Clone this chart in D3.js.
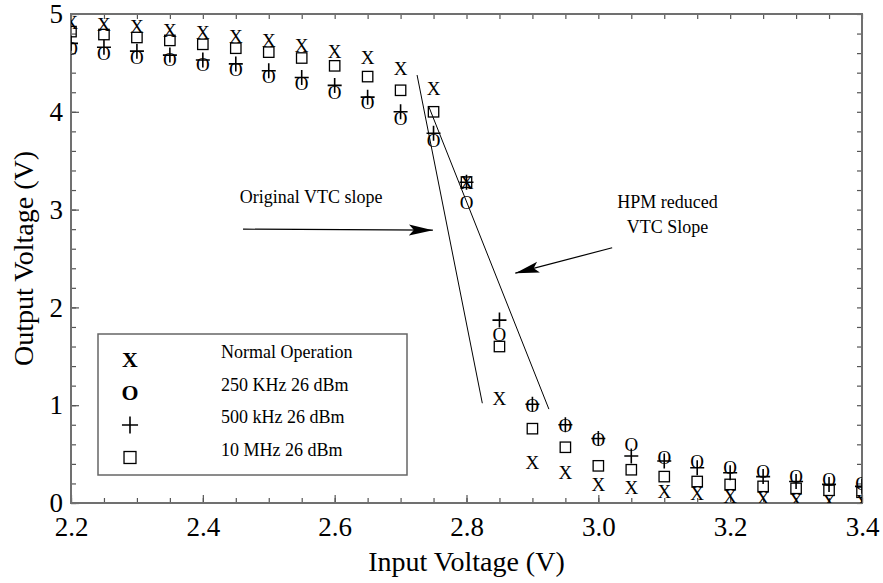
<!DOCTYPE html>
<html>
<head>
<meta charset="utf-8">
<script src="https://cdn.jsdelivr.net/npm/d3@7"></script>
<style>
  body { margin: 0; background: #fff; }
  svg text { font-family: "Liberation Serif", "Times New Roman", Times, serif; fill: #000; }
</style>
</head>
<body>
<div id="chart-area"></div>
<script>
// Data
const inputV = [2.2, 2.25, 2.3, 2.35, 2.4, 2.45, 2.5, 2.55, 2.6, 2.65, 2.7, 2.75, 2.8,
  2.85, 2.9, 2.95, 3.0, 3.05, 3.1, 3.15, 3.2, 3.25, 3.3, 3.35, 3.4];
const normalOp = [4.91, 4.89, 4.87, 4.83, 4.81, 4.77, 4.73, 4.68, 4.62, 4.55, 4.44, 4.24, 3.28,
  1.07, 0.41, 0.31, 0.19, 0.16, 0.12, 0.10, 0.07, 0.05, 0.03, 0.02, 0.02];
const khz250 = [4.65, 4.60, 4.56, 4.53, 4.48, 4.43, 4.36, 4.29, 4.20, 4.09, 3.93, 3.71, 3.07,
  1.72, 1.00, 0.79, 0.65, 0.60, 0.47, 0.42, 0.36, 0.32, 0.27, 0.24, 0.20];
const khz500 = [4.70, 4.66, 4.62, 4.58, 4.53, 4.49, 4.42, 4.35, 4.27, 4.15, 4.00, 3.78, 3.28,
  1.87, 1.01, 0.80, 0.66, 0.48, 0.43, 0.36, 0.31, 0.27, 0.22, 0.19, 0.17];
const mhz10 = [4.82, 4.79, 4.76, 4.73, 4.69, 4.65, 4.61, 4.55, 4.47, 4.36, 4.22, 4.00, 3.28,
  1.60, 0.76, 0.57, 0.38, 0.34, 0.27, 0.22, 0.19, 0.17, 0.15, 0.13, 0.11];

const seriesNames = ["Normal Operation", "250 KHz 26 dBm", "500 kHz 26 dBm", "10 MHz 26 dBm"];
const seriesShapes = ["x", "o", "plus", "square"];

const xTicks = [2.2, 2.4, 2.6, 2.8, 3.0, 3.2, 3.4];
const yTicks = [0, 1, 2, 3, 4, 5];

// slope lines and arrows, in data units
const originalSlope = [[2.725, 4.376], [2.824, 1.02]];
const hpmSlope = [[2.743, 4.05], [2.925, 0.96]];
const originalArrow = [[2.461, 2.80], [2.749, 2.79]];
const hpmArrow = [[3.021, 2.61], [2.874, 2.35]];

const serif = "'Liberation Serif', 'Times New Roman', Times, serif";

const margin = {left: 71, right: 21, top: 14, bottom: 80},
  width = 883 - margin.left - margin.right,
  height = 583 - margin.top - margin.bottom;

const svg = d3.select("#chart-area").append("svg")
  .attr("width", 883)
  .attr("height", 583)
  .attr("font-family", serif);

const g = svg.append("g")
  .attr("transform", "translate(" + margin.left + "," + margin.top + ")");

const x = d3.scaleLinear().domain([2.2, 3.4]).range([0, width]);
const y = d3.scaleLinear().domain([0, 5]).range([height, 0]);

const defs = svg.append("defs");
defs.append("clipPath").attr("id", "plot-clip")
  .append("rect").attr("width", width).attr("height", height);

defs.append("marker")
  .attr("id", "arrow")
  .attr("markerUnits", "userSpaceOnUse")
  .attr("viewBox", "0 -6 24 12")
  .attr("refX", 24).attr("refY", 0)
  .attr("markerWidth", 24).attr("markerHeight", 12)
  .attr("orient", "auto")
  .append("path")
  .attr("d", "M0,-5.5L24,0L0,5.5L5,0Z")
  .attr("fill", "#000");

// Axes: inward ticks on all four sides
const tickColor = "#555";
function styleAxis(sel) {
  sel.attr("font-family", serif).attr("font-size", 27);
  sel.select(".domain").remove();
  sel.selectAll(".tick line").attr("stroke", tickColor).attr("stroke-width", 1.2);
  sel.selectAll(".tick text").attr("fill", "#000");
}

const minorX = d3.range(2.2, 3.4001, 0.05);
const minorY = d3.range(0, 5.0001, 0.2);

g.append("g").attr("transform", "translate(0," + height + ")")
  .call(d3.axisBottom(x).tickValues(minorX).tickSize(-5).tickFormat(""))
  .call(styleAxis);
g.append("g").attr("transform", "translate(0," + height + ")")
  .call(d3.axisBottom(x).tickValues(xTicks).tickSize(-8).tickPadding(14).tickFormat(d3.format(".1f")))
  .call(styleAxis);
g.append("g")
  .call(d3.axisTop(x).tickValues(minorX).tickSize(-5).tickFormat(""))
  .call(styleAxis);
g.append("g")
  .call(d3.axisLeft(y).tickValues(minorY).tickSize(-5).tickFormat(""))
  .call(styleAxis);
g.append("g")
  .call(d3.axisLeft(y).tickValues(yTicks).tickSize(-8).tickPadding(8).tickFormat(d3.format("d")))
  .call(styleAxis);
g.append("g").attr("transform", "translate(" + width + ",0)")
  .call(d3.axisRight(y).tickValues(minorY).tickSize(-5).tickFormat(""))
  .call(styleAxis);

// Frame
g.append("rect")
  .attr("width", width).attr("height", height)
  .attr("fill", "none").attr("stroke", "#707070").attr("stroke-width", 2);

// Markers
function drawMarker(sel, shape, big) {
  const s = big ? 1.15 : 1;
  if (shape === "x" || shape === "o") {
    sel.append("text")
      .attr("text-anchor", "middle")
      .attr("dy", "0.34em")
      .attr("font-size", 19 * s)
      .attr("font-weight", big ? "bold" : "normal")
      .text(shape === "x" ? "X" : "O");
  } else if (shape === "plus") {
    const h = 7 * s;
    sel.append("path")
      .attr("d", "M" + (-h) + ",0H" + h + "M0," + (-h - 0.5) + "V" + (h + 0.5))
      .attr("stroke", "#000").attr("stroke-width", 1.6).attr("fill", "none");
  } else {
    const h = 5.2 * s;
    sel.append("rect")
      .attr("x", -h).attr("y", -h).attr("width", 2 * h).attr("height", 2 * h)
      .attr("fill", "none").attr("stroke", "#000").attr("stroke-width", 1.3);
  }
}

const allSeries = [normalOp, khz250, khz500, mhz10];
const pts = g.append("g").attr("clip-path", "url(#plot-clip)");
// squares first, then plus, O, X on top
[3, 2, 1, 0].forEach(si => {
  pts.append("g").selectAll("g")
    .data(inputV.map((v, i) => ({x: v, y: allSeries[si][i]})))
    .join("g")
    .attr("transform", d => "translate(" + x(d.x) + "," + y(d.y) + ")")
    .each(function () { drawMarker(d3.select(this), seriesShapes[si], false); });
});

// Slope lines
const line = d3.line().x(d => x(d[0])).y(d => y(d[1]));
[originalSlope, hpmSlope].forEach(l => {
  g.append("path").attr("d", line(l))
    .attr("fill", "none").attr("stroke", "#000").attr("stroke-width", 1);
});
[originalArrow, hpmArrow].forEach(l => {
  g.append("path").attr("d", line(l))
    .attr("fill", "none").attr("stroke", "#000").attr("stroke-width", 1.2)
    .attr("marker-end", "url(#arrow)");
});

// Annotations
g.append("text")
  .attr("x", x(2.456)).attr("y", y(3.07))
  .attr("font-size", 18)
  .text("Original VTC slope");
g.append("text")
  .attr("x", x(3.105)).attr("y", y(3.02))
  .attr("text-anchor", "middle")
  .attr("font-size", 18)
  .text("HPM reduced");
g.append("text")
  .attr("x", x(3.105)).attr("y", y(2.765))
  .attr("text-anchor", "middle")
  .attr("font-size", 18)
  .text("VTC Slope");

// Legend
const legend = g.append("g").attr("transform", "translate(27,320)");
legend.append("rect")
  .attr("width", 309).attr("height", 141)
  .attr("fill", "#fff").attr("stroke", "#666").attr("stroke-width", 1.5);
seriesNames.forEach((name, i) => {
  const row = legend.append("g").attr("transform", "translate(0," + (26 + i * 32.5) + ")");
  const m = row.append("g").attr("transform", "translate(32,0)");
  drawMarker(m, seriesShapes[i], true);
  row.append("text")
    .attr("x", 123).attr("y", -2)
    .attr("font-size", 18)
    .text(name);
});

// Axis titles
svg.append("text")
  .attr("x", margin.left + width / 2).attr("y", 571)
  .attr("text-anchor", "middle")
  .attr("font-size", 28)
  .text("Input Voltage (V)");
svg.append("text")
  .attr("transform", "translate(33," + (margin.top + height / 2) + ") rotate(-90)")
  .attr("text-anchor", "middle")
  .attr("font-size", 28)
  .text("Output Voltage (V)");
</script>
</body>
</html>
